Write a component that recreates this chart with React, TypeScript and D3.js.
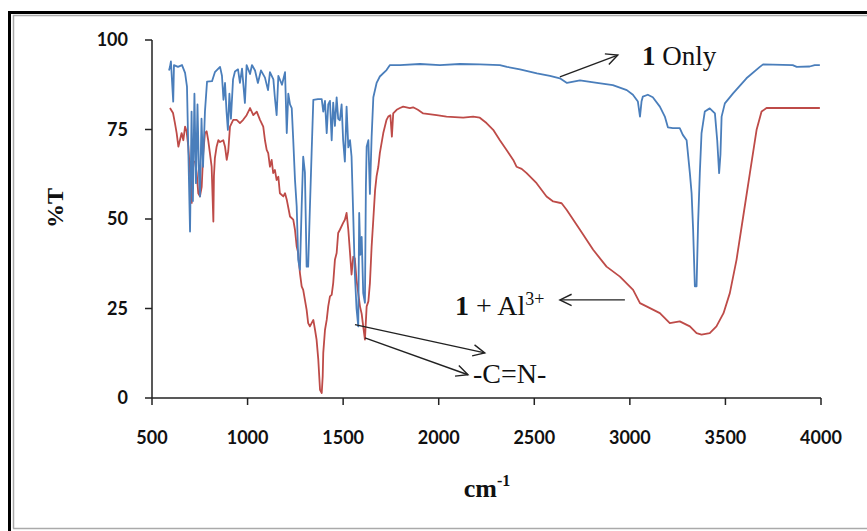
import React from 'react';
import * as d3 from 'd3';

// "1 Only" spectrum (blue)
const onlyWave = [589,594,599,611,615,636,657,673,683,699,707,714,722,730,738,746,751,759,767,777,788,814,829,856,866,874,882,890,897,905,913,924,934,950,960,971,986,995,1013,1023,1039,1054,1070,1091,1107,1117,1135,1143,1152,1161,1180,1196,1205,1213,1222,1231,1239,1248,1257,1265,1274,1283,1291,1300,1309,1317,1326,1335,1344,1368,1388,1396,1405,1414,1422,1431,1440,1448,1457,1466,1474,1483,1492,1500,1509,1518,1527,1536,1544,1553,1561,1570,1579,1584,1590,1597,1605,1614,1619,1623,1632,1640,1649,1658,1675,1692,1727,1745,1797,1902,2006,2111,2215,2320,2357,2425,2514,2582,2634,2671,2739,2828,2911,2984,3016,3042,3053,3061,3068,3094,3120,3157,3183,3199,3225,3261,3277,3297,3314,3323,3331,3340,3349,3357,3366,3375,3392,3418,3445,3457,3467,3474,3480,3497,3540,3610,3680,3697,3852,3873,3941,3967,3994];
const onlyT = [91.5,92.5,94,82.8,93,92.5,93,90.8,87,46.5,80,55,85,60,82,62,56.3,78,64.6,80,88.4,88.5,91,92.5,90,83.3,88,80,74.9,85,78,89,91.2,91.8,88,92,82.4,93,90.5,93,91.5,88,91.5,89.5,86,91,89,83.8,79,90,87.5,91,74,85,82,81,72,61,53.5,38.6,35.8,53.5,67.4,63,36.7,36.7,53,68.4,83.3,83.5,83.5,80,83,74,82,83,72,82.5,76,84,78,77.6,82,72,66,81.4,70,72,67.4,50.7,35,25,20,51.7,40,45,29.3,26.6,59,70.2,72,57,73,84,88,89.8,91.6,93,93,93.3,93,93.3,93.2,93,92.5,91.8,90.7,90,89.3,88,88.7,88,87.4,86,84.7,82.8,78.6,82.8,84.2,84.7,84,81.4,78.6,75.6,75.4,75.4,73.5,72,62.8,57.2,47,31.2,31.2,48.8,62.8,74,80,80.9,79.5,72,62.8,68,78.6,82.3,85.1,89.3,92.5,93.2,93,92.5,92.6,93,93];

// "1 + Al3+" spectrum (red)
const alWave = [594,610,620,629,638,646,655,664,673,681,690,699,708,713,716,725,734,742,751,760,768,777,786,794,803,812,821,824,829,838,847,856,873,882,891,899,908,925,943,960,977,995,1013,1030,1048,1065,1082,1091,1100,1108,1117,1126,1134,1143,1152,1161,1169,1187,1196,1205,1222,1239,1248,1257,1265,1274,1283,1291,1300,1309,1317,1326,1335,1344,1353,1361,1370,1379,1388,1393,1396,1405,1414,1422,1431,1440,1448,1457,1466,1474,1483,1500,1509,1518,1527,1536,1544,1553,1561,1570,1579,1588,1597,1605,1614,1623,1632,1640,1649,1658,1667,1675,1684,1692,1710,1727,1736,1747,1755,1762,1780,1797,1814,1849,1866,1891,1919,1989,2041,2128,2180,2215,2250,2285,2320,2355,2390,2407,2434,2460,2512,2564,2599,2643,2669,2739,2808,2878,2948,3017,3053,3087,3157,3209,3261,3314,3349,3375,3418,3453,3490,3523,3558,3593,3628,3663,3689,3715,3994];
const alT = [81,79.6,76.8,74,70.2,72,74,72,75.8,74.5,70.2,62.8,54.5,65,66,66,62.8,57.2,56.3,59,68.4,74,74.5,72,68.4,64.6,49.3,62,67,70.2,72,71.5,72,70.2,66.5,69,75.8,77.7,77.7,76.8,77.7,79,81,79,80,77.7,75.8,72,69.3,68.4,64.6,66.5,62.8,63.7,60.9,61.8,57.2,56.3,57.2,55.4,50.7,49.8,47,42.3,40.5,34.9,31.2,30.2,27.4,24.6,20.9,20,20.9,21.8,19,16.3,10.7,2.3,1.4,6,12.6,19,21.8,25.6,28.4,28.8,32.1,38.6,40.5,46.1,47,48.9,49.8,51.7,47,40.5,34.5,39.5,39,33,29.3,25.6,23.5,20,16.3,25.6,27,32,42.3,50,58,62,64.6,68.4,74,77.7,78.6,79,73,79.5,80.5,81,81.4,81,81.2,80.5,79.5,79,78.6,78.3,78.6,78.3,76.8,74.9,72,69.3,66.5,64.6,64,62.8,60,56.3,54.9,54.4,52.6,47,41.4,36.7,33.9,30.2,26.5,25.6,23.7,20.9,21.4,20,18.1,17.7,18.1,20,23.7,29.3,38.6,50.7,62.8,74.9,80,81,81];

const xTicks = [500, 1000, 1500, 2000, 2500, 3000, 3500, 4000];
const yTicks = [0, 25, 50, 75, 100];

function arrowHead(x1: number, y1: number, x2: number, y2: number, len = 13, ang = 0.45) {
  const a = Math.atan2(y1 - y2, x1 - x2);
  const p1 = [x2 + len * Math.cos(a + ang), y2 + len * Math.sin(a + ang)];
  const p2 = [x2 + len * Math.cos(a - ang), y2 + len * Math.sin(a - ang)];
  return `M${p1[0]},${p1[1]}L${x2},${y2}L${p2[0]},${p2[1]}`;
}

export default function App() {
  const W = 867, H = 531;
  const x = d3.scaleLinear().domain([500, 4000]).range([152, 821]);
  const y = d3.scaleLinear().domain([0, 100]).range([398, 40]);

  const onlyPts = onlyWave.map((w, i) => [x(w), y(onlyT[i])] as [number, number]);
  const alPts = alWave.map((w, i) => [x(w), y(alT[i])] as [number, number]);
  const lineGen = d3.line<[number, number]>().x(d => d[0]).y(d => d[1]);

  const arrow = (w1: number, t1: number, w2: number, t2: number) => {
    const X1 = x(w1), Y1 = y(t1), X2 = x(w2), Y2 = y(t2);
    return (
      <g stroke="#222" strokeWidth={1.4} fill="none">
        <path d={`M${X1},${Y1}L${X2},${Y2}`} />
        <path d={arrowHead(X1, Y1, X2, Y2)} />
      </g>
    );
  };

  const serif = "'Liberation Serif', 'Times New Roman', serif";
  const sans = "Lato, 'Open Sans', sans-serif";

  return (
    <svg width={W} height={H} style={{ position: 'absolute', left: 0, top: 0, background: '#fff' }}>
      <rect x={0} y={0} width={W} height={H} fill="#fff" />
      {/* frame */}
      <line x1={8} y1={12.5} x2={W} y2={12.5} stroke="#000" strokeWidth={3} />
      <line x1={9.5} y1={11} x2={9.5} y2={H} stroke="#000" strokeWidth={3} />
      <line x1={13} y1={15.5} x2={W} y2={15.5} stroke="#aaa" strokeWidth={1.5} />
      <line x1={13.5} y1={15} x2={13.5} y2={528.5} stroke="#aaa" strokeWidth={1.5} />
      <line x1={13} y1={528.5} x2={W} y2={528.5} stroke="#aaa" strokeWidth={1.5} />

      {/* axes */}
      <g stroke="#222" strokeWidth={1.5}>
        <line x1={x(500)} y1={y(0)} x2={x(4000)} y2={y(0)} />
        <line x1={x(500)} y1={y(0)} x2={x(500)} y2={y(100)} />
        {xTicks.map(t => (
          <line key={'xt' + t} x1={x(t)} y1={y(0)} x2={x(t)} y2={y(0) + 7} />
        ))}
        {yTicks.map(t => (
          <line key={'yt' + t} x1={x(500) - 7} y1={y(t)} x2={x(500)} y2={y(t)} />
        ))}
      </g>
      <g fontFamily={sans} fontWeight="bold" fontSize={18} fill="#111">
        {xTicks.map(t => (
          <text key={'xl' + t} x={x(t)} y={y(0) + 46} textAnchor="middle">{t}</text>
        ))}
        {yTicks.map(t => (
          <text key={'yl' + t} x={x(500) - 24} y={y(t) + 6} textAnchor="end">{t}</text>
        ))}
      </g>

      {/* series */}
      <path d={lineGen(alPts) || ''} fill="none" stroke="#BE4B48" strokeWidth={1.8} strokeLinejoin="round" />
      <path d={lineGen(onlyPts) || ''} fill="none" stroke="#4A7EBB" strokeWidth={1.8} strokeLinejoin="round" />

      {/* annotations */}
      {arrow(2634, 89.7, 2937, 95.8)}
      <text x={x(3063)} y={y(93)} fontFamily={serif} fontSize={27} fill="#111">
        <tspan fontWeight="bold">1</tspan> Only
      </text>

      {arrow(2974, 27.4, 2634, 27.4)}
      <text x={x(2085)} y={y(23.2)} fontFamily={serif} fontSize={28} fill="#111">
        <tspan fontWeight="bold">1</tspan> + Al<tspan fontSize={18} dy={-10}>3+</tspan>
      </text>

      {arrow(1562, 20.5, 2241, 12.6)}
      {arrow(1614, 16.8, 2153, 6.5)}
      <text x={x(2179)} y={y(4.3)} fontFamily={serif} fontSize={28} fill="#111">-C=N-</text>

      {/* axis titles */}
      <text x={487} y={497} textAnchor="middle" fontFamily={serif} fontWeight="bold" fontSize={26} fill="#111">
        cm<tspan fontSize={16} dy={-11}>-1</tspan>
      </text>
      <text transform="translate(63,208) rotate(-90)" textAnchor="middle" fontFamily={serif} fontWeight="bold" fontSize={24} fill="#111">%T</text>
    </svg>
  );
}
